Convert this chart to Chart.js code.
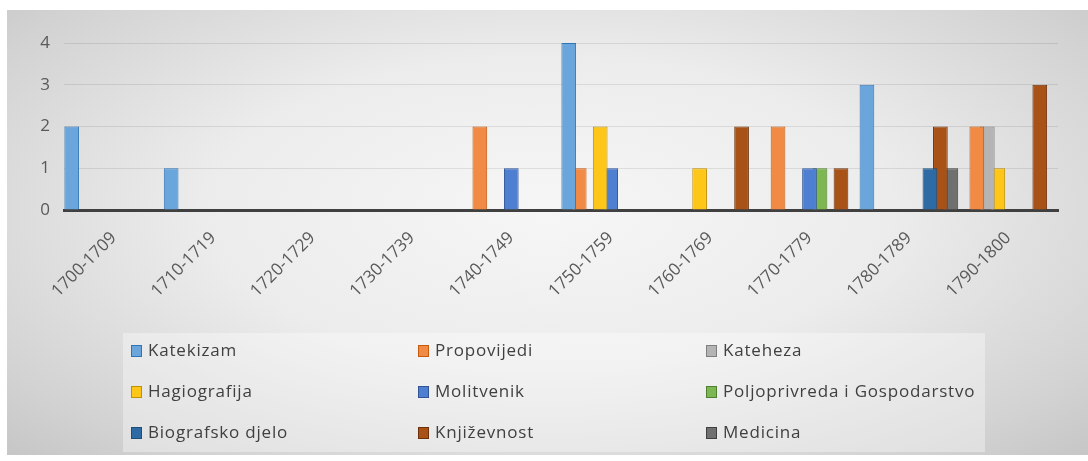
<!DOCTYPE html>
<html>
<head>
<meta charset="utf-8">
<script src="https://cdn.jsdelivr.net/npm/chart.js@4/dist/chart.umd.min.js"></script>
<style>
  html, body { margin: 0; padding: 0; background: #fff; }
  #wrap {
    position: absolute; left: 7px; top: 10px; width: 1081px; height: 445px;
    background: radial-gradient(ellipse at 50% 45%, #f6f6f6 0%, #ececec 45%, #d2d2d2 85%, #c6c6c6 100%);
  }
</style>
</head>
<body>
<div id="wrap"><canvas id="chart"></canvas></div>
<script>
const categories = ['1700-1709', '1710-1719', '1720-1729', '1730-1739', '1740-1749',
                    '1750-1759', '1760-1769', '1770-1779', '1780-1789', '1790-1800'];

const katekizam     = [2, 1, 0, 0, 0, 4, 0, 0, 3, 0];
const propovijedi   = [0, 0, 0, 0, 2, 1, 0, 2, 0, 2];
const kateheza      = [0, 0, 0, 0, 0, 0, 0, 0, 0, 2];
const hagiografija  = [0, 0, 0, 0, 0, 2, 1, 0, 0, 1];
const molitvenik    = [0, 0, 0, 0, 1, 1, 0, 1, 0, 0];
const poljoprivreda = [0, 0, 0, 0, 0, 0, 0, 1, 0, 0];
const biografsko    = [0, 0, 0, 0, 0, 0, 0, 0, 1, 0];
const knjizevnost   = [0, 0, 0, 0, 0, 0, 2, 1, 2, 3];
const medicina      = [0, 0, 0, 0, 0, 0, 0, 0, 1, 0];

const yTicks = [0, 1, 2, 3, 4];

Chart.defaults.font.family = "'Open Sans', sans-serif";

function ds(label, data, fill, edge) {
    return { label, data, backgroundColor: fill, borderColor: edge, borderWidth: 1 };
}

// legend drawn as a 3x3 grid like the original
const gridLegend = {
    id: 'gridLegend',
    afterDraw(chart) {
        const ctx = chart.ctx;
        ctx.save();
        ctx.fillStyle = 'rgba(255,255,255,0.35)';
        ctx.fillRect(116, 323, 862, 119);
        const colX = [124, 411, 699];
        const rowY = [18, 59, 100];
        ctx.font = "17px 'Open Sans', sans-serif";
        ctx.letterSpacing = '0.8px';
        ctx.textBaseline = 'middle';
        chart.data.datasets.forEach((d, i) => {
            const x = colX[i % 3], y = 323 + rowY[Math.floor(i / 3)];
            ctx.fillStyle = d.backgroundColor;
            ctx.fillRect(x, y - 6, 11, 12);
            ctx.strokeStyle = d.borderColor;
            ctx.lineWidth = 1;
            ctx.strokeRect(x + 0.5, y - 5.5, 10, 11);
            ctx.fillStyle = '#404040';
            ctx.fillText(d.label, x + 17, y);
        });
        ctx.restore();
    }
};

new Chart(document.getElementById('chart'), {
    type: 'bar',
    data: {
        labels: categories,
        datasets: [
            ds('Katekizam', katekizam, '#6aa6dc', '#2e75b6'),
            ds('Propovijedi', propovijedi, '#f08a45', '#c55a11'),
            ds('Kateheza', kateheza, '#b4b4b4', '#7f7f7f'),
            ds('Hagiografija', hagiografija, '#ffc61a', '#bf9000'),
            ds('Molitvenik', molitvenik, '#4f7fd0', '#2f5597'),
            ds('Poljoprivreda i Gospodarstvo', poljoprivreda, '#7cb752', '#507e32'),
            ds('Biografsko djelo', biografsko, '#2e6aa3', '#1f4e79'),
            ds('Književnost', knjizevnost, '#a85217', '#6e300a'),
            ds('Medicina', medicina, '#707070', '#404040')
        ]
    },
    options: {
        responsive: true,
        maintainAspectRatio: false,
        animation: false,
        layout: { padding: { top: 33, left: 27, right: 30, bottom: 155 } },
        datasets: { bar: { categoryPercentage: 0.95, barPercentage: 1.4 } },
        plugins: { legend: { display: false }, tooltip: { enabled: false } },
        scales: {
            x: {
                grid: { display: false },
                border: { color: '#404040', width: 3 },
                ticks: { color: '#595959', font: { size: 17 }, minRotation: 45, maxRotation: 45, padding: 10 },
                afterFit: (axis) => { axis.height = 90; }
            },
            y: {
                min: 0, max: 4,
                afterBuildTicks: (axis) => { axis.ticks = yTicks.map(v => ({ value: v })); },
                grid: { color: 'rgba(0,0,0,0.09)', drawTicks: false },
                border: { display: false },
                ticks: { color: '#595959', font: { size: 17 }, padding: 14 },
                afterFit: (axis) => { axis.width = 30; }
            }
        }
    },
    plugins: [gridLegend]
});
</script>
</body>
</html>
